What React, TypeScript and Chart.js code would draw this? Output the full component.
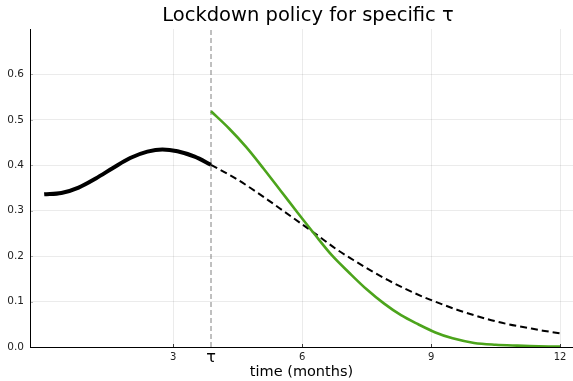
import { useEffect, useRef } from "react";
import { Chart, registerables } from "chart.js";

Chart.register(...registerables);

const TITLE = "Lockdown policy for specific τ";
const X_LABEL = "time (months)";
const TAU = 3.88;
const TAU_LABEL = "τ";
const X_TICKS = [3, 6, 9, 12];
const Y_TICKS = [0, 0.1, 0.2, 0.3, 0.4, 0.5, 0.6];

// black solid: before τ
const solidT = [0, 0.4, 0.8, 1.2, 1.6, 2.0, 2.4, 2.75, 3.1, 3.5, 3.88];
const solidV = [0.336, 0.339, 0.351, 0.371, 0.394, 0.416, 0.43, 0.435, 0.431, 0.419, 0.401];

// black dashed: no lockdown after τ
const dashT = [3.88, 4.4, 4.8, 5.2, 5.6, 6.0, 6.4, 6.8, 7.2, 7.6, 8.0, 8.4, 8.8, 9.2, 9.6, 10.0, 10.4, 10.8, 11.2, 11.6, 12.0];
const dashV = [0.401, 0.374, 0.35, 0.324, 0.297, 0.27, 0.243, 0.215, 0.191, 0.168, 0.147, 0.128, 0.111, 0.096, 0.082, 0.07, 0.059, 0.05, 0.043, 0.036, 0.03];

// green: lockdown after τ
const greenT = [3.88, 4.3, 4.7, 5.1, 5.5, 5.9, 6.3, 6.7, 7.1, 7.5, 7.9, 8.3, 8.7, 9.1, 9.5, 10.0, 10.5, 11.0, 11.5, 12.0];
const greenV = [0.519, 0.481, 0.44, 0.393, 0.344, 0.295, 0.247, 0.201, 0.163, 0.127, 0.096, 0.07, 0.05, 0.032, 0.019, 0.009, 0.005, 0.003, 0.0015, 0.001];

const zip = (t: number[], v: number[]) => t.map((x, i) => ({ x, y: v[i] }));

const FONT = "DejaVu Sans";

const decorPlugin = {
  id: "decor",
  afterDatasetsDraw(chart: any) {
    const { ctx, chartArea, scales } = chart;
    ctx.save();
    ctx.strokeStyle = "rgba(0,0,0,0.75)";
    ctx.lineWidth = 1;
    for (const v of X_TICKS) {
      const px = Math.round(scales.x.getPixelForValue(v)) + 0.5;
      ctx.beginPath();
      ctx.moveTo(px, chartArea.bottom);
      ctx.lineTo(px, chartArea.bottom - 3);
      ctx.stroke();
    }
    ctx.strokeStyle = "rgba(0,0,0,0.3)";
    for (const v of Y_TICKS.slice(1)) {
      const py = Math.round(scales.y.getPixelForValue(v)) + 0.5;
      ctx.beginPath();
      ctx.moveTo(chartArea.left, py);
      ctx.lineTo(chartArea.left + 3, py);
      ctx.stroke();
    }
    ctx.restore();
  },
  afterDraw(chart: any) {
    const { ctx, chartArea, scales } = chart;
    ctx.save();
    ctx.font = `19.5px "${FONT}"`;
    ctx.fillStyle = "#000";
    ctx.textAlign = "center";
    ctx.textBaseline = "alphabetic";
    ctx.fillText(TITLE, 308, 21);
    ctx.font = `16px "${FONT}"`;
    ctx.fillText(TAU_LABEL, scales.x.getPixelForValue(TAU), chartArea.bottom + 14.5);
    ctx.restore();
  },
};

export default function App() {
  const ref = useRef<HTMLCanvasElement>(null);
  useEffect(() => {
    document.body.style.margin = "0";
    const chart = new Chart(ref.current!, {
      type: "line",
      data: {
        datasets: [
          {
            data: zip(solidT, solidV),
            borderColor: "#000",
            borderWidth: 4,
            pointRadius: 0,
            cubicInterpolationMode: "monotone",
            order: 1,
          },
          {
            data: zip(dashT, dashV),
            borderColor: "#000",
            borderWidth: 2,
            borderDash: [7, 4],
            pointRadius: 0,
            cubicInterpolationMode: "monotone",
            order: 2,
          },
          {
            data: zip(greenT, greenV),
            borderColor: "rgb(76,164,28)",
            borderWidth: 2.6,
            pointRadius: 0,
            cubicInterpolationMode: "monotone",
            order: 0,
          },
          {
            data: [
              { x: TAU, y: 0 },
              { x: TAU, y: 0.7 },
            ],
            borderColor: "rgb(128,128,128)",
            borderWidth: 1,
            borderDash: [5, 3],
            pointRadius: 0,
            order: 5,
          },
        ],
      },
      options: {
        responsive: false,
        animation: false,
        layout: { padding: { top: 29, right: 0, left: 0, bottom: 0 } },
        plugins: {
          legend: { display: false },
          tooltip: { enabled: false },
          title: { display: false },
        },
        scales: {
          x: {
            type: "linear",
            min: -0.33,
            max: 12.3,
            afterBuildTicks: (s: any) => {
              s.ticks = X_TICKS.map((value) => ({ value }));
            },
            afterFit: (s: any) => {
              s.height = 34;
            },
            ticks: {
              autoSkip: false,
              maxRotation: 0,
              padding: 4,
              color: "#222",
              font: { family: FONT, size: 10 },
              callback: (v: any) => String(v),
            },
            grid: {
              drawTicks: false,
              color: "rgba(0,0,0,0.08)",
            },
            border: { display: true, color: "#000", width: 1 },
            title: {
              display: true,
              text: X_LABEL,
              color: "#000",
              font: { family: FONT, size: 14.5 },
              padding: { top: 0, bottom: 0 },
            },
          },
          y: {
            type: "linear",
            min: 0,
            max: 0.7,
            afterBuildTicks: (s: any) => {
              s.ticks = Y_TICKS.map((value) => ({ value }));
            },
            afterFit: (s: any) => {
              s.width = 30;
            },
            ticks: {
              padding: 6,
              color: "#222",
              font: { family: FONT, size: 10.5 },
              callback: (v: any) => Number(v).toFixed(1),
            },
            grid: { drawTicks: false, color: "rgba(0,0,0,0.08)" },
            border: { display: true, color: "#000", width: 1 },
          },
        },
      },
      plugins: [decorPlugin],
    } as any);
    return () => chart.destroy();
  }, []);
  return (
    <div style={{ position: "absolute", left: 0, top: 0, width: 573, height: 381 }}>
      <canvas ref={ref} width={573} height={381} style={{ display: "block" }} />
    </div>
  );
}
